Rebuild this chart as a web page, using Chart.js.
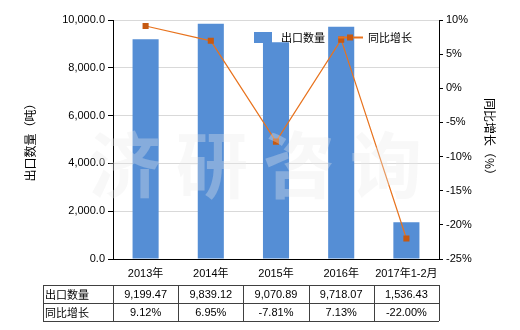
<!DOCTYPE html>
<html>
<head>
<meta charset="utf-8">
<script src="https://cdn.jsdelivr.net/npm/chart.js@4/dist/chart.umd.min.js"></script>
<style>
  html, body { margin: 0; padding: 0; background: #fff; }
</style>
</head>
<body>
<canvas id="chart" width="520" height="330"></canvas>
<script>
const categories = ["2013年", "2014年", "2015年", "2016年", "2017年1-2月"];
const exportQty = [9199.47, 9839.12, 9070.89, 9718.07, 1536.43];
const yoyGrowth = [9.12, 6.95, -7.81, 7.13, -22.00];
const seriesNames = ["出口数量", "同比增长"];
const qtyAxis = { min: 0, max: 10000, step: 2000 };
const pctAxis = { min: -25, max: 10, step: 5 };
const watermark = ["济", "研", "咨", "询"];

const FONT = '"Liberation Sans", "Noto Sans CJK SC", sans-serif';
const CJK = '"Noto Sans CJK SC", sans-serif';
const BAR = "#558ed5";
const LINE = "#e8731e";
const MARK = "#c65911";

const fmtQty = (v) => v.toLocaleString("en-US", { minimumFractionDigits: 2, maximumFractionDigits: 2 });
const fmtPct = (v) => v.toFixed(2) + "%";

const extras = {
  id: "extras",
  afterDraw(chart) {
    const { ctx, chartArea: a } = chart;
    ctx.save();

    // faint watermark over the plot
    ctx.font = "bold 72px " + CJK;
    ctx.fillStyle = "rgba(235,235,235,0.33)";
    ctx.textAlign = "center";
    ctx.textBaseline = "middle";
    watermark.forEach((c, i) => ctx.fillText(c, 125 + i * 87, 165));

    // legend inside the plot
    ctx.font = "11px " + CJK;
    ctx.textAlign = "left";
    ctx.fillStyle = BAR;
    ctx.fillRect(254, 32, 18, 11);
    ctx.fillStyle = "#000";
    ctx.fillText(seriesNames[0], 281, 38);
    ctx.strokeStyle = LINE;
    ctx.lineWidth = 2;
    ctx.beginPath();
    ctx.moveTo(338, 37.5);
    ctx.lineTo(363, 37.5);
    ctx.stroke();
    ctx.fillStyle = MARK;
    ctx.fillRect(347, 34.5, 6, 6);
    ctx.fillStyle = "#000";
    ctx.fillText(seriesNames[1], 368, 38);

    // data table under the x axis
    const top = 285, rowH = 18;
    const w = (a.right - a.left) / categories.length;
    const xs = [43, a.left];
    categories.forEach((_, i) => xs.push(a.left + (i + 1) * w));
    ctx.strokeStyle = "#404040";
    ctx.lineWidth = 1;
    ctx.beginPath();
    for (let r = 0; r <= 2; r++) {
      const y = Math.round(top + r * rowH) + 0.5;
      ctx.moveTo(xs[0], y);
      ctx.lineTo(xs[xs.length - 1], y);
    }
    xs.forEach((x) => {
      const xx = Math.round(x) + 0.5;
      ctx.moveTo(xx, top);
      ctx.lineTo(xx, top + 2 * rowH);
    });
    ctx.stroke();

    const rows = [exportQty.map(fmtQty), yoyGrowth.map(fmtPct)];
    ctx.fillStyle = "#000";
    rows.forEach((vals, r) => {
      const cy = top + r * rowH + rowH / 2 + 1;
      ctx.font = "11px " + CJK;
      ctx.textAlign = "left";
      ctx.fillText(seriesNames[r], 45, cy);
      ctx.font = "11px " + FONT;
      ctx.textAlign = "center";
      vals.forEach((t, i) => ctx.fillText(t, a.left + (i + 0.5) * w, cy));
    });

    ctx.restore();
  },
};

new Chart(document.getElementById("chart"), {
  data: {
    labels: categories,
    datasets: [
      {
        type: "line",
        label: seriesNames[1],
        data: yoyGrowth,
        yAxisID: "y1",
        borderColor: LINE,
        borderWidth: 1.2,
        pointStyle: "rect",
        pointRadius: 4.3,
        pointBackgroundColor: MARK,
        pointBorderColor: MARK,
        pointBorderWidth: 0,
        tension: 0,
        order: 0,
      },
      {
        type: "bar",
        label: seriesNames[0],
        data: exportQty,
        yAxisID: "y",
        backgroundColor: BAR,
        barPercentage: 0.4,
        categoryPercentage: 1,
        order: 1,
      },
    ],
  },
  options: {
    responsive: false,
    animation: false,
    devicePixelRatio: 1,
    layout: { padding: { left: 0, right: 0, top: 20, bottom: 49 } },
    plugins: { legend: { display: false }, tooltip: { enabled: false } },
    scales: {
      x: {
        offset: true,
        grid: { display: false, drawTicks: false },
        border: { display: true, color: "#000", width: 1 },
        ticks: { color: "#000", font: { family: FONT, size: 11 }, padding: 8, maxRotation: 0, autoSkip: false },
        afterFit: (s) => { s.height = 22; },
      },
      y: {
        position: "left",
        min: qtyAxis.min,
        max: qtyAxis.max,
        grid: { color: "#d9d9d9", tickColor: "#000", tickLength: 5 },
        border: { display: true, color: "#000", width: 1 },
        ticks: {
          stepSize: qtyAxis.step,
          color: "#000",
          padding: 3,
          font: { family: FONT, size: 11 },
          callback: (v) => v.toLocaleString("en-US", { minimumFractionDigits: 1, maximumFractionDigits: 1 }),
        },
        title: {
          display: true,
          text: "出口数量（吨）",
          color: "#000",
          font: { family: CJK, size: 12 },
          padding: { top: 23, bottom: 0 },
        },
        afterFit: (s) => { s.width = 113; },
      },
      y1: {
        position: "right",
        min: pctAxis.min,
        max: pctAxis.max,
        grid: { drawOnChartArea: false, tickColor: "#000", tickLength: 4 },
        border: { display: true, color: "#000", width: 1 },
        ticks: {
          stepSize: pctAxis.step,
          color: "#000",
          padding: 3,
          font: { family: FONT, size: 11 },
          callback: (v) => v + "%",
        },
        title: {
          display: true,
          text: "同比增长（%）",
          color: "#000",
          font: { family: CJK, size: 12 },
          padding: { top: 23, bottom: 0 },
        },
        afterFit: (s) => { s.width = 81; },
      },
    },
  },
  plugins: [extras],
});
</script>
</body>
</html>
